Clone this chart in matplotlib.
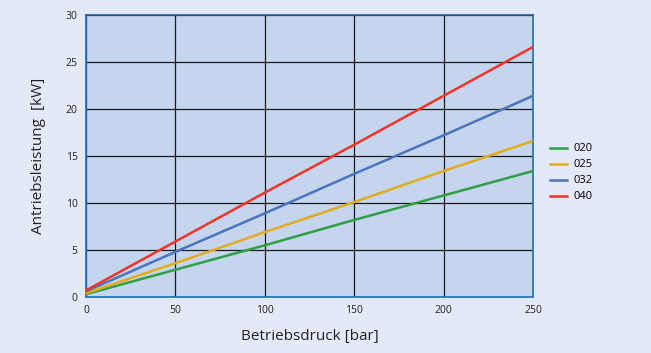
import matplotlib
matplotlib.use("Agg")
import matplotlib.pyplot as plt

# Betriebsdruck in bar
pressure = [0, 50, 100, 150, 200, 250]
# Antriebsleistung in kW je Baugröße
p020 = [0.3, 2.9, 5.5, 8.2, 10.8, 13.4]
p025 = [0.4, 3.6, 6.9, 10.1, 13.4, 16.6]
p032 = [0.6, 4.8, 8.9, 13.1, 17.2, 21.4]
p040 = [0.7, 5.9, 11.1, 16.2, 21.4, 26.6]

series = [("020", p020, "#2ea043"), ("025", p025, "#e0ac1c"),
          ("032", p032, "#4a74c0"), ("040", p040, "#f0342a")]

plt.rcParams['font.family'] = ['Open Sans', 'DejaVu Sans']

fig = plt.figure(figsize=(6.51, 3.53), dpi=100, facecolor="#e3e9f6")
ax = fig.add_axes([86/651, 1-297/353, 447/651, 282/353])
ax.set_facecolor("#c6d5ee")

for name, vals, col in series:
    ax.plot(pressure, vals, color=col, lw=1.8, label=name, zorder=3)

ax.set_xlim(0, 250)
ax.set_ylim(0, 30)
ax.set_xticks([0, 50, 100, 150, 200, 250])
ax.set_yticks([0, 5, 10, 15, 20, 25, 30])
ax.grid(True, color="#1a1a1a", lw=0.9, zorder=1)
ax.set_axisbelow(True)
ax.tick_params(length=0, labelsize=7.5, colors="#222222", pad=6)

for s in ax.spines.values():
    s.set_color("#1f6fba")
    s.set_linewidth(1.2)
ax.spines['top'].set_color("#2a5f8f")

ax.set_xlabel("Betriebsdruck [bar]", fontsize=11, color="#222222", labelpad=9)
ax.set_ylabel("Antriebsleistung  [kW]", fontsize=11, color="#222222", labelpad=14)

ax.legend(loc="upper left", bbox_to_anchor=(1.015, 0.58), frameon=False,
          fontsize=8, handlelength=1.6, handletextpad=0.5, labelspacing=0.45)

fig.savefig("out.png", dpi=100, facecolor=fig.get_facecolor())
